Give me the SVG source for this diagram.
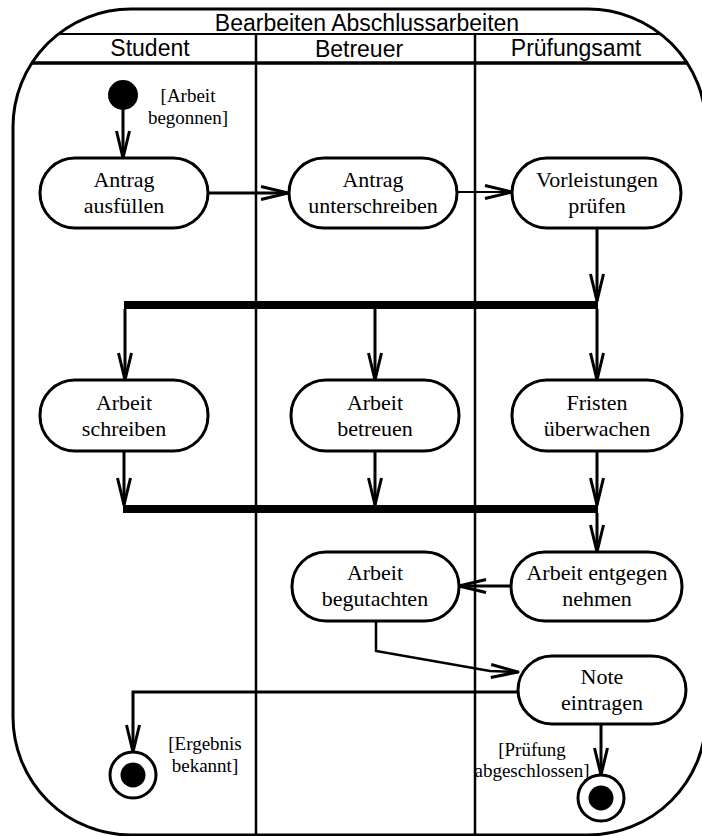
<svg xmlns="http://www.w3.org/2000/svg" width="702" height="836" viewBox="0 0 702 836">
<style>
.frame{fill:none;stroke:#000;stroke-width:3}
.lane{stroke:#000;stroke-width:2.5;fill:none}
.hdr{font-family:"Liberation Sans",Arial,sans-serif;font-size:23px;text-anchor:middle;fill:#000}
.act{fill:#fff;stroke:#000;stroke-width:3}
.lbl{font-family:"Liberation Serif","Times New Roman",serif;font-size:22px;text-anchor:middle;fill:#000}
.grd{font-family:"Liberation Serif","Times New Roman",serif;font-size:19px;text-anchor:middle;fill:#000}
.edge{fill:none;stroke:#000;stroke-width:3}
.thin{stroke-width:2}
.bar{fill:#000}
</style>
<defs>
<marker id="arr" markerUnits="userSpaceOnUse" markerWidth="40" markerHeight="24" viewBox="-32 -12 34 24" refX="0" refY="0" orient="auto" overflow="visible">
<path d="M-27,-6.5 L0,0 L-27,6.5" fill="none" stroke="#000" stroke-width="3" stroke-linejoin="round"/>
</marker>
</defs>

<g id="frame">
<rect class="frame" x="13" y="9" width="693" height="826" rx="118" ry="118"/>
<line class="lane" x1="58" y1="34" x2="661" y2="34" style="stroke-width:2"/>
<line class="lane" x1="32" y1="63" x2="687" y2="63" style="stroke-width:3.5"/>
<line class="lane" x1="256" y1="34" x2="256" y2="836"/>
<line class="lane" x1="475" y1="34" x2="475" y2="836"/>
<text class="hdr" x="367" y="31">Bearbeiten Abschlussarbeiten</text>
<text class="hdr" x="150" y="56">Student</text>
<text class="hdr" x="359" y="57">Betreuer</text>
<text class="hdr" x="576" y="56">Prüfungsamt</text>
</g>

<g id="connectors">
<line class="edge" x1="123" y1="109" x2="123" y2="158" marker-end="url(#arr)"/>
<line class="edge" x1="208" y1="193" x2="288" y2="193" marker-end="url(#arr)"/>
<line class="edge thin" x1="457" y1="192" x2="512" y2="192" marker-end="url(#arr)"/>
<line class="edge" x1="597" y1="228" x2="597" y2="301" marker-end="url(#arr)"/>
<line class="edge" x1="125" y1="309" x2="125" y2="380" marker-end="url(#arr)"/>
<line class="edge" x1="375" y1="309" x2="375" y2="380" marker-end="url(#arr)"/>
<line class="edge" x1="597" y1="309" x2="597" y2="380" marker-end="url(#arr)"/>
<line class="edge" x1="124" y1="451" x2="124" y2="505" marker-end="url(#arr)"/>
<line class="edge" x1="375" y1="451" x2="375" y2="505" marker-end="url(#arr)"/>
<line class="edge" x1="597" y1="451" x2="597" y2="505" marker-end="url(#arr)"/>
<line class="edge" x1="597" y1="513" x2="597" y2="552" marker-end="url(#arr)"/>
<line class="edge" x1="511" y1="586" x2="459" y2="586" marker-end="url(#arr)"/>
<polyline class="edge" points="376,621 376,651 490,671 518,672" style="stroke-width:2.5" marker-end="url(#arr)"/>
<polyline class="edge" points="518,692 133,692 133,752" marker-end="url(#arr)"/>
<line class="edge" x1="601" y1="724" x2="601" y2="775" marker-end="url(#arr)"/>
</g>

<g id="initial">
<ellipse cx="123" cy="95" rx="15" ry="15" fill="#000"/>
<text class="grd" x="188" y="102">[Arbeit</text>
<text class="grd" x="188" y="124">begonnen]</text>
</g>

<g id="antrag-ausfuellen">
<rect class="act" x="40" y="158" width="168" height="70" rx="35"/>
<text class="lbl" x="124" y="187">Antrag</text>
<text class="lbl" x="124" y="213">ausfüllen</text>
</g>
<g id="antrag-unterschreiben">
<rect class="act" x="289" y="158" width="168" height="70" rx="35"/>
<text class="lbl" x="373" y="187">Antrag</text>
<text class="lbl" x="373" y="213">unterschreiben</text>
</g>
<g id="vorleistungen-pruefen">
<rect class="act" x="512" y="158" width="169" height="70" rx="35"/>
<text class="lbl" x="597" y="187">Vorleistungen</text>
<text class="lbl" x="597" y="213">prüfen</text>
</g>

<g id="fork">
<rect class="bar" x="124" y="301" width="474" height="8"/>
</g>

<g id="arbeit-schreiben">
<rect class="act" x="40" y="380" width="168" height="71" rx="35"/>
<text class="lbl" x="124" y="410">Arbeit</text>
<text class="lbl" x="124" y="436">schreiben</text>
</g>
<g id="arbeit-betreuen">
<rect class="act" x="291" y="380" width="168" height="71" rx="35"/>
<text class="lbl" x="375" y="410">Arbeit</text>
<text class="lbl" x="375" y="436">betreuen</text>
</g>
<g id="fristen-ueberwachen">
<rect class="act" x="512" y="380" width="170" height="71" rx="35"/>
<text class="lbl" x="597" y="410">Fristen</text>
<text class="lbl" x="597" y="436">überwachen</text>
</g>

<g id="join">
<rect class="bar" x="123" y="505" width="475" height="8"/>
</g>

<g id="arbeit-begutachten">
<rect class="act" x="292" y="552" width="167" height="69" rx="34"/>
<text class="lbl" x="375" y="580">Arbeit</text>
<text class="lbl" x="375" y="606">begutachten</text>
</g>
<g id="arbeit-entgegen-nehmen">
<rect class="act" x="511" y="552" width="171" height="69" rx="34"/>
<text class="lbl" x="597" y="580">Arbeit entgegen</text>
<text class="lbl" x="597" y="606">nehmen</text>
</g>
<g id="note-eintragen">
<rect class="act" x="518" y="656" width="168" height="68" rx="34"/>
<text class="lbl" x="602" y="684">Note</text>
<text class="lbl" x="602" y="710">eintragen</text>
</g>

<g id="final-ergebnis">
<circle cx="133" cy="775" r="23" fill="#fff" stroke="#000" stroke-width="3"/>
<circle cx="133" cy="775" r="12.5" fill="#000"/>
<text class="grd" x="205" y="750">[Ergebnis</text>
<text class="grd" x="205" y="772">bekannt]</text>
</g>
<g id="final-pruefung">
<circle cx="601" cy="798" r="23" fill="#fff" stroke="#000" stroke-width="3"/>
<circle cx="601" cy="798" r="12.5" fill="#000"/>
<text class="grd" x="532" y="756">[Prüfung</text>
<text class="grd" x="532" y="777">abgeschlossen]</text>
</g>
</svg>
